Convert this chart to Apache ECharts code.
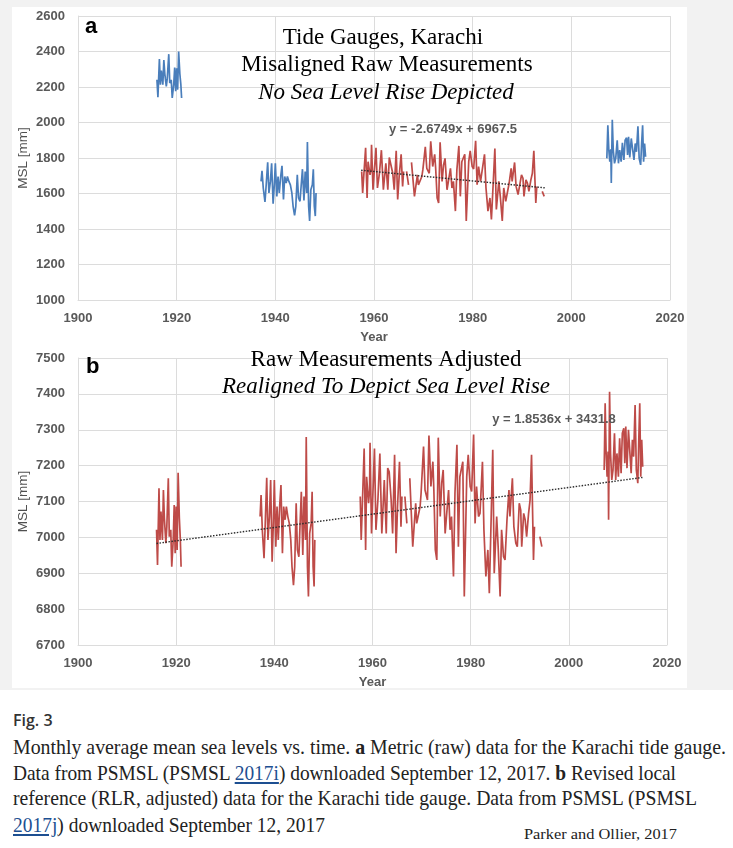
<!DOCTYPE html>
<html>
<head>
<meta charset="utf-8">
<script src="https://cdn.jsdelivr.net/npm/echarts@6/dist/echarts.min.js"></script>
<style>
  html, body { margin: 0; padding: 0; background: #ffffff; }
  body { width: 733px; height: 848px; position: relative; overflow: hidden; }
  #bg { position: absolute; left: 0; top: 0; width: 733px; height: 690px; background: #f2f2f2; }
  #chart { position: absolute; left: 12px; top: 7px; width: 675px; height: 681px; background: #ffffff; }
  .fig { position: absolute; left: 13px; top: 709px; font: 600 16px "Open Sans", sans-serif; color: #333; line-height: 22px; }
  .ln { position: absolute; left: 13px; white-space: nowrap; font: 21px "Liberation Serif", serif; color: #222; line-height: 26px; transform-origin: 0 50%; }
  .ln a { color: #1d4f91; text-decoration: underline; }
  .credit { position: absolute; left: 524px; top: 824px; white-space: nowrap; font: 15px "Liberation Serif", serif; color: #222; line-height: 20px; transform-origin: 0 50%; }
</style>
</head>
<body>
<div id="bg"></div>
<div id="chart"></div>
<div class="fig">Fig. 3</div>
<div class="ln" data-w="713" style="top:734px">Monthly average mean sea levels vs. time. <b>a</b> Metric (raw) data for the Karachi tide gauge.</div>
<div class="ln" data-w="663" style="top:760px">Data from PSMSL (PSMSL <a>2017i</a>) downloaded September 12, 2017. <b>b</b> Revised local</div>
<div class="ln" data-w="684" style="top:785px">reference (RLR, adjusted) data for the Karachi tide gauge. Data from PSMSL (PSMSL</div>
<div class="ln" data-w="312" style="top:812px"><a>2017j</a>) downloaded September 12, 2017</div>
<div class="credit" data-w="153">Parker and Ollier, 2017</div>
<script>
// ---------- data ----------
const xTicks = [1900, 1920, 1940, 1960, 1980, 2000, 2020];
const yTicksA = [1000, 1200, 1400, 1600, 1800, 2000, 2200, 2400, 2600];
const yTicksB = [6700, 6800, 6900, 7000, 7100, 7200, 7300, 7400, 7500];

const years1 = [1916.0, 1916.2, 1916.5, 1916.7, 1916.9, 1917.2, 1917.4, 1917.6, 1917.9, 1918.1, 1918.4, 1918.6, 1918.9, 1919.1, 1919.4, 1919.6, 1919.8, 1920.0, 1920.2, 1920.4, 1920.65, 1920.85, 1921.0];
const metric1 = [2241, 2143, 2357, 2213, 2292, 2213, 2352, 2273, 2204, 2250, 2385, 2222, 2241, 2138, 2213, 2310, 2176, 2306, 2185, 2400, 2273, 2213, 2138];
const rlr1 = [7021, 6923, 7137, 6993, 7072, 6993, 7132, 7053, 6984, 7030, 7165, 7002, 7021, 6918, 6993, 7090, 6956, 7086, 6965, 7180, 7053, 6993, 6918];

const years2 = [1937.1, 1937.3, 1937.55, 1937.9, 1938.15, 1938.45, 1938.7, 1939.0, 1939.25, 1939.55, 1939.8, 1940.0, 1940.3, 1940.55, 1940.8, 1941.1, 1941.35, 1941.65, 1941.9, 1942.2, 1942.45, 1942.75, 1943.05, 1943.35, 1943.6, 1943.9, 1944.15, 1944.45, 1944.7, 1945.0, 1945.25, 1945.5, 1945.8, 1946.05, 1946.35, 1946.5, 1946.75, 1946.95, 1947.2, 1947.5, 1947.7, 1947.9, 1948.1, 1948.25];
const metric2 = [1668, 1728, 1631, 1552, 1649, 1776, 1603, 1668, 1770, 1542, 1649, 1770, 1584, 1696, 1603, 1700, 1756, 1566, 1696, 1659, 1696, 1668, 1649, 1603, 1528, 1477, 1528, 1705, 1575, 1556, 1649, 1737, 1561, 1724, 1603, 1890, 1528, 1445, 1621, 1649, 1737, 1528, 1473, 1603];
const rlr2 = [7058, 7118, 7021, 6942, 7039, 7166, 6993, 7058, 7160, 6932, 7039, 7160, 6974, 7086, 6993, 7090, 7146, 6956, 7086, 7049, 7086, 7058, 7039, 6993, 6918, 6867, 6918, 7095, 6965, 6946, 7039, 7127, 6951, 7114, 6993, 7280, 6918, 6835, 7011, 7039, 7127, 6918, 6863, 6993];

const years3 = [1957.5, 1957.7, 1958.3, 1958.6, 1958.8, 1959.2, 1959.4, 1959.5, 1959.8, 1960.4,
  1960.7, 1961.1, 1961.5, 1961.9, 1962.4, 1962.8, 1963.1, 1963.4, 1963.8, 1964.1,
  1964.5, 1964.8, 1965.1, 1965.5, 1965.8, 1966.0, 1966.3, 1966.6, 1967.0, 1967.3,
  1967.6, 1968.2, 1968.8, 1969.0, 1969.7, 1969.9, 1970.4, 1970.7, 1971.2, 1971.5,
  1971.9, 1972.3, 1972.5, 1972.8, 1973.1, 1973.4, 1973.8, 1974.1, 1974.4, 1974.8,
  1975.1, 1975.5, 1975.8, 1976.1, 1976.5, 1976.8, 1977.2, 1977.5, 1977.8, 1978.4,
  1978.7, 1979.2, 1979.5, 1979.9, 1980.2, 1980.6, 1980.9, 1981.2, 1981.6, 1981.9,
  1982.4, 1982.7, 1983.1, 1983.5, 1983.8, 1984.2, 1984.5, 1984.8, 1985.3, 1985.6,
  1986.0, 1986.3, 1986.7, 1987.0, 1987.4, 1987.8, 1988.0, 1988.5, 1988.8, 1989.2,
  1989.5, 1989.9, 1990.2, 1990.4, 1990.8, 1991.1, 1991.4, 1991.8, 1992.1, 1992.4,
  1992.8, 1993.0, 1993.5, 1994.1, 1994.5];
const metric3 = [1724, 1603, 1858, 1575, 1779, 1705, 1742, 1874, 1621, 1858,
  1631, 1714, 1844, 1621, 1770, 1621, 1803, 1793, 1714, 1621,
  1840, 1566, 1696, 1821, 1640, 1724, null, 1724, 1649, null,
  1775, 1584, 1705, 1649, 1696, 1733, 1863, 1742, 1714, 1894,
  1752, 1821, 1742, 1575, 1547, 1888, 1668, 1761, 1798, 1621,
  1621, 1742, 1631, 1668, 1501, 1733, 1868, 1584, 1779, 1821,
  1445, 1779, 1840, 1752, 1738, 1897, 1649, 1752, 1668, 1677,
  1821, 1631, 1501, 1575, 1454, 1677, 1854, 1510, 1668, 1584,
  1445, 1631, 1556, 1547, 1659, 1742, 1668, 1775, 1640, 1594,
  1584, 1705, 1686, 1584, 1677, 1659, 1612, 1677, 1714, 1840,
  1547, 1640, null, 1612, 1584];
const rlr3 = [7114, 6993, 7248, 6965, 7169, 7095, 7132, 7264, 7011, 7248,
  7021, 7104, 7234, 7011, 7160, 7011, 7193, 7183, 7104, 7011,
  7230, 6956, 7086, 7211, 7030, 7114, null, 7114, 7039, null,
  7165, 6974, 7095, 7039, 7086, 7123, 7253, 7132, 7104, 7284,
  7142, 7211, 7132, 6965, 6937, 7278, 7058, 7151, 7188, 7011,
  7011, 7132, 7021, 7058, 6891, 7123, 7258, 6974, 7169, 7211,
  6835, 7169, 7230, 7142, 7128, 7287, 7039, 7142, 7058, 7067,
  7211, 7021, 6891, 6965, 6844, 7067, 7244, 6900, 7058, 6974,
  6835, 7021, 6946, 6937, 7049, 7132, 7058, 7165, 7030, 6984,
  6974, 7095, 7076, 6974, 7067, 7049, 7002, 7067, 7104, 7230,
  6937, 7030, null, 7002, 6974];

const years4 = [2007.2, 2007.4, 2007.6, 2007.8, 2008.0, 2008.1, 2008.3, 2008.5, 2008.75, 2009.0, 2009.3, 2009.55, 2009.8, 2010.1, 2010.35, 2010.65, 2010.9, 2011.2, 2011.4, 2011.6, 2011.85, 2012.15, 2012.4, 2012.7, 2012.95, 2013.2, 2013.5, 2013.75, 2014.05, 2014.25, 2014.45, 2014.65, 2014.85, 2015.05];
const metric4 = [1798, 1984, 1844, 1779, 1849, 1659, 2016, 1844, 1770, 1798, 1900, 1770, 1844, 1779, 1886, 1789, 1900, 1914, 1817, 1919, 1803, 1910, 1854, 1789, 1882, 1835, 1979, 1798, 1761, 1882, 1984, 1779, 1882, 1807];
const rlr4 = [7188, 7374, 7234, 7169, 7239, 7049, 7406, 7234, 7160, 7188, 7290, 7160, 7234, 7169, 7276, 7179, 7290, 7304, 7207, 7309, 7193, 7300, 7244, 7179, 7272, 7225, 7369, 7188, 7151, 7272, 7374, 7169, 7272, 7197];

const trendYearsA = [1957.4, 1994.6];
const trendValuesA = [1731, 1632];
const trendYearsB = [1916.0, 2015.0];
const trendValuesB = [6983, 7167];

const titlesA = ['Tide Gauges, Karachi', 'Misaligned Raw Measurements', 'No Sea Level Rise Depicted'];
const titlesB = ['Raw Measurements Adjusted', 'Realigned To Depict Sea Level Rise'];
const eqA = 'y = -2.6749x + 6967.5';
const eqB = 'y = 1.8536x + 3431.8';

// ---------- chart ----------
const BLUE = '#4a7ebb';
const RED = '#be4b48';
const GRIDC = '#dcdcdc';
const LBL = '#595959';

const pairs = (xs, vs) => xs.map((x, i) => [x, vs[i] === null ? '-' : vs[i]]);
const plain = v => String(v);

function xAxisFor(g) {
  return {
    type: 'value', gridIndex: g,
    min: xTicks[0], max: xTicks[xTicks.length - 1], interval: xTicks[1] - xTicks[0],
    name: 'Year', nameLocation: 'middle', nameGap: 31,
    nameTextStyle: { fontFamily: 'Liberation Sans', fontSize: 13, fontWeight: 'bold', color: LBL },
    axisLine: { show: true, lineStyle: { color: GRIDC, width: 1 } },
    axisTick: { show: false },
    splitLine: { show: true, lineStyle: { color: GRIDC, width: 1 } },
    axisLabel: { fontFamily: 'Liberation Sans', fontSize: 13, fontWeight: 'bold', color: LBL, margin: 12, formatter: plain }
  };
}
function yAxisFor(g, ticks) {
  return {
    type: 'value', gridIndex: g,
    min: ticks[0], max: ticks[ticks.length - 1], interval: ticks[1] - ticks[0],
    name: 'MSL [mm]', nameLocation: 'middle', nameGap: 48, nameMoveOverlap: false,
    nameTextStyle: { fontFamily: 'Liberation Sans', fontSize: 13.5, color: '#505050' },
    axisLine: { show: true, lineStyle: { color: GRIDC, width: 1 } },
    axisTick: { show: false },
    splitLine: { show: true, lineStyle: { color: GRIDC, width: 1 } },
    axisLabel: { fontFamily: 'Liberation Sans', fontSize: 13, fontWeight: 'bold', color: LBL, margin: 13, formatter: plain }
  };
}
function lineSeries(g, data, color) {
  return {
    type: 'line', xAxisIndex: g, yAxisIndex: g, data: data,
    showSymbol: false, symbol: 'none', connectNulls: false,
    lineStyle: { color: color, width: 1.7 }, z: 2, silent: true
  };
}
function trendSeries(g, xs, vs) {
  return {
    type: 'line', xAxisIndex: g, yAxisIndex: g, data: pairs(xs, vs),
    showSymbol: false, symbol: 'none',
    lineStyle: { color: '#2b2b2b', width: 1.4, type: [1.5, 1.5] }, z: 5, silent: true
  };
}
function txt(x, y, text, font, fill, align) {
  return {
    type: 'text', x: x, y: y, z: 100, silent: true,
    style: { text: text, font: font, fill: fill, align: align || 'center', verticalAlign: 'middle',
             textAlign: align || 'center', textVerticalAlign: 'middle' }
  };
}

const chart = echarts.init(document.getElementById('chart'), null, { renderer: 'canvas' });
const serifR = '23px "Liberation Serif", serif';
const serifI = 'italic 23px "Liberation Serif", serif';
chart.setOption({
  animation: false,
  backgroundColor: '#ffffff',
  grid: [
    { left: 66, top: 9, width: 592, height: 284, outerBoundsMode: 'none', containLabel: false },
    { left: 66, top: 351, width: 589, height: 287, outerBoundsMode: 'none', containLabel: false }
  ],
  xAxis: [xAxisFor(0), xAxisFor(1)],
  yAxis: [yAxisFor(0, yTicksA), yAxisFor(1, yTicksB)],
  series: [
    lineSeries(0, pairs(years1, metric1), BLUE),
    lineSeries(0, pairs(years2, metric2), BLUE),
    lineSeries(0, pairs(years3, metric3), RED),
    lineSeries(0, pairs(years4, metric4), BLUE),
    trendSeries(0, trendYearsA, trendValuesA),
    lineSeries(1, pairs(years1, rlr1), RED),
    lineSeries(1, pairs(years2, rlr2), RED),
    lineSeries(1, pairs(years3, rlr3), RED),
    lineSeries(1, pairs(years4, rlr4), RED),
    trendSeries(1, trendYearsB, trendValuesB)
  ],
  graphic: [
    txt(73, 20, 'a', 'bold 22px "Liberation Sans", sans-serif', '#000', 'left'),
    txt(371, 31, titlesA[0], serifR, '#000'),
    txt(375, 58, titlesA[1], serifR, '#000'),
    txt(374, 86, titlesA[2], serifI, '#000'),
    txt(441, 122, eqA, 'bold 13px "Liberation Sans", sans-serif', LBL),
    txt(74, 360, 'b', 'bold 22px "Liberation Sans", sans-serif', '#000', 'left'),
    txt(374, 353, titlesB[0], serifR, '#000'),
    txt(374, 380, titlesB[1], serifI, '#000'),
    txt(542, 412, eqB, 'bold 13px "Liberation Sans", sans-serif', LBL)
  ]
});

// fit caption lines to the reference line widths
document.querySelectorAll('.ln, .credit').forEach(el => {
  const w = el.getBoundingClientRect().width;
  const t = +el.dataset.w;
  if (w > 0 && t > 0) el.style.transform = 'scaleX(' + (t / w) + ')';
});
</script>
</body>
</html>
